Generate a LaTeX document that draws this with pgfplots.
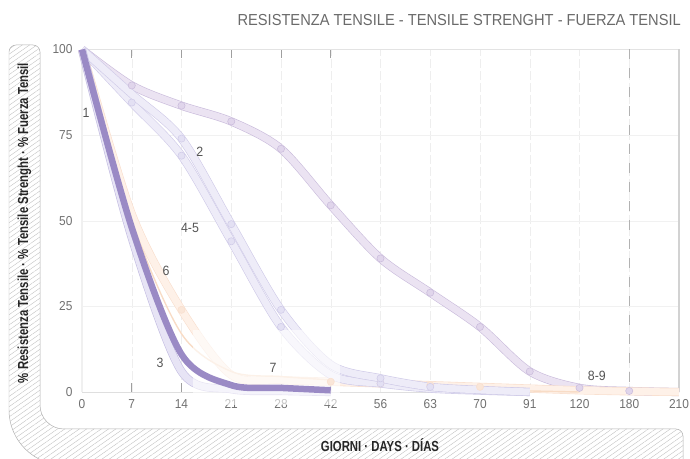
\documentclass[border=0pt]{standalone}
\usepackage{fontspec}
\setmainfont{Liberation Sans}
\newfontfamily\condbold[FakeStretch=0.78]{Liberation Sans Bold}
\newfontfamily\narrowfont[FakeStretch=0.92]{Liberation Sans}
\newfontfamily\titlefont[FakeStretch=0.92]{Liberation Sans}
\usepackage{pgfplots}
\pgfplotsset{compat=1.18}
\usetikzlibrary{patterns.meta}
\definecolor{ninefill}{HTML}{EBE3F2}
\definecolor{nineborder}{HTML}{C9BBDB}
\definecolor{ninemark}{HTML}{E0D5EB}
\definecolor{twofill}{HTML}{EEECF8}
\definecolor{twoborder}{HTML}{CFCAE8}
\definecolor{twomark}{HTML}{E3E0F3}
\definecolor{threefill}{HTML}{E7E4F5}
\definecolor{threeborder}{HTML}{C3BCE1}
\definecolor{peachfill}{HTML}{FEF1E8}
\definecolor{peachborder}{HTML}{F9DFCE}
\definecolor{peachmark}{HTML}{FAE6D8}
\definecolor{onecol}{HTML}{9A8AC5}
\definecolor{sevencol}{HTML}{F8DCC6}
\definecolor{ticklab}{HTML}{707070}
\definecolor{curvelab}{HTML}{555555}
\definecolor{titlecol}{HTML}{6A6A6A}
\definecolor{hatch}{HTML}{BDBDBD}
\definecolor{framecol}{HTML}{B0B0B0}
\begin{document}
\begin{tikzpicture}
\useasboundingbox (0bp,0bp) rectangle (690bp,459bp);
\begin{scope}[x=1bp,y=1bp]
% hatched frame
\draw[draw=framecol, line width=0.5bp, fill=white] (9,407) arc[start angle=180,end angle=90,radius=7] -- (33,414) arc[start angle=90,end angle=0,radius=7] -- (40,54) arc[start angle=180,end angle=270,radius=24] -- (676,30) arc[start angle=90,end angle=0,radius=7] -- (683,-6) -- (64,-6) arc[start angle=270,end angle=180,radius=55] -- cycle;
\path[pattern={Lines[angle=35,distance=4.2pt,line width=0.35pt]}, pattern color=hatch] (9,407) arc[start angle=180,end angle=90,radius=7] -- (33,414) arc[start angle=90,end angle=0,radius=7] -- (40,54) arc[start angle=180,end angle=270,radius=24] -- (676,30) arc[start angle=90,end angle=0,radius=7] -- (683,-6) -- (64,-6) arc[start angle=270,end angle=180,radius=55] -- cycle;
% title and axis labels
\node[anchor=east, inner sep=0, text=titlecol, font=\titlefont\fontsize{16}{18}\selectfont] at (681,439) {RESISTENZA TENSILE - TENSILE STRENGHT - FUERZA TENSIL};
\node[rotate=90, inner sep=0, text=black!85, font=\condbold\fontsize{14.6}{16}\selectfont] at (24.5,236) {\% Resistenza Tensile · \% Tensile Strenght · \% Fuerza Tensil};
\node[inner sep=0, text=black!85, font=\condbold\fontsize{14.6}{16}\selectfont] at (380,14) {GIORNI · DAYS · DÍAS};
\end{scope}
\begin{axis}[
  at={(82bp,67bp)}, anchor=south west, scale only axis,
  width=597bp, height=342.5bp,
  xmin=0, xmax=12, ymin=0, ymax=100, clip=false,
  xtick={0,...,12},
  xticklabels={0,7,14,21,28,42,56,63,70,91,120,180,210},
  ytick={0,25,50,75,100},
  axis line style={draw=none},
  major tick length=0pt,
  grid=major,
  x grid style={gray!13, dash pattern=on 9bp off 3bp},
  y grid style={gray!11},
  tick label style={font=\narrowfont\fontsize{13}{15}\selectfont, text=ticklab},
  /pgf/number format/assume math mode=true,
  yticklabel style={xshift=-6bp},
  xticklabel style={yshift=-4bp},
  extra x ticks={0,1,2,3,4,5}, extra x tick labels={},
  extra x tick style={grid=none, major tick length=9bp, tick align=inside, tick style={draw=gray!75, line width=0.6pt}},
  band/.style={smooth, tension=0.5, line width=0.6bp, double distance=7bp},
  dots/.style={only marks, mark=*, mark size=3.6bp, mark options={line width=0.5bp}},
]
\draw[gray!12, line width=2.5bp] (rel axis cs:0,0) -- (rel axis cs:0,1);
\draw[gray!22, line width=1bp] (rel axis cs:0,1) -- (rel axis cs:1,1);
\draw[gray!35, line width=2.5bp] (rel axis cs:1,0) -- (rel axis cs:1,1);
\draw[gray!25, line width=0.8bp] (rel axis cs:0,0) -- (rel axis cs:1,0);
% curve 8-9
\addplot[band, draw=nineborder, double=ninefill] coordinates {(0,100)(1,89.5)(2,83.6)(3,79)(4,71)(5,54.5)(6,39)(7,29)(8,19)(9,6)(10,1.2)(11,0.3)(12,0)};
\addplot[dots, draw=nineborder, fill=ninemark] coordinates {(1,89.5)(2,83.6)(3,79)(4,71)(5,54.5)(6,39)(7,29)(8,19)(9,6)(10,1.2)(11,0.3)};
% curve 6
\addplot[band, draw=peachborder, double=peachfill] coordinates {(0,100)(1,52)(2,24)(3,5)(4,3.5)(5,3)(6,2.5)(7,2)(8,1.5)(9,1)(10,0.5)(11,0.2)(12,0)};
\addplot[dots, draw=peachborder, fill=peachmark] coordinates {(2,24)(5,3)(6,2.5)(7,2)(8,1.5)};
% curve 7
\addplot[smooth, tension=0.5, draw=sevencol, line width=1.4bp] coordinates {(0,100)(1,50)(2,17)(3,6)(4,4.5)(5,3.5)(6,2.2)(7,1.2)(8,0.6)(9,0.3)(10,0)};
% curve 4-5
\addplot[band, draw=twoborder, double=twofill] coordinates {(0,100)(1,84.5)(2,69)(3,44)(4,19)(5,5)(6,2.5)(7,1)(8,0.4)(9,0)};
\addplot[dots, draw=twoborder, fill=twomark] coordinates {(1,84.5)(2,69)(3,44)(4,19)(6,2.5)};
% curve 2
\addplot[band, draw=twoborder, double=twofill] coordinates {(0,100)(1,87)(2,74)(3,49)(4,24)(5,8)(6,4)(7,1.5)(8,0.6)(9,0)};
\addplot[dots, draw=twoborder, fill=twomark] coordinates {(2,74)(3,49)(4,24)(6,4)(7,1.5)};
% curve 3
\addplot[band, draw=threeborder, double=threefill] coordinates {(0,100)(1,45)(2,6)(3,0.8)(4,0.3)(5,0)};
% faded box
\fill[white, opacity=0.6] (axis cs:2.23,-3.8) rectangle (axis cs:5.19,18.1);
% curve 1
\addplot[smooth, tension=0.5, draw=onecol, line width=6.5bp] coordinates {(0,100)(1,48)(2,11)(3,2)(4,1.2)(5,0.5)};
% dashed line at 180
\draw[gray!60, line width=0.8bp, dash pattern=on 10bp off 9bp] (axis cs:11,100) -- (axis cs:11,0);
% curve labels
\begin{scope}[every node/.style={text=curvelab, font=\narrowfont\fontsize{13.5}{15}\selectfont, inner sep=0}]
\node at (axis cs:0.08,81.5) {1};
\node at (axis cs:2.37,70) {2};
\node at (axis cs:2.17,48) {4-5};
\node at (axis cs:1.69,35.3) {6};
\node at (axis cs:1.57,8.5) {3};
\node at (axis cs:3.84,7) {7};
\node at (axis cs:10.35,4.7) {8-9};
\end{scope}
\end{axis}
\end{tikzpicture}
\end{document}
